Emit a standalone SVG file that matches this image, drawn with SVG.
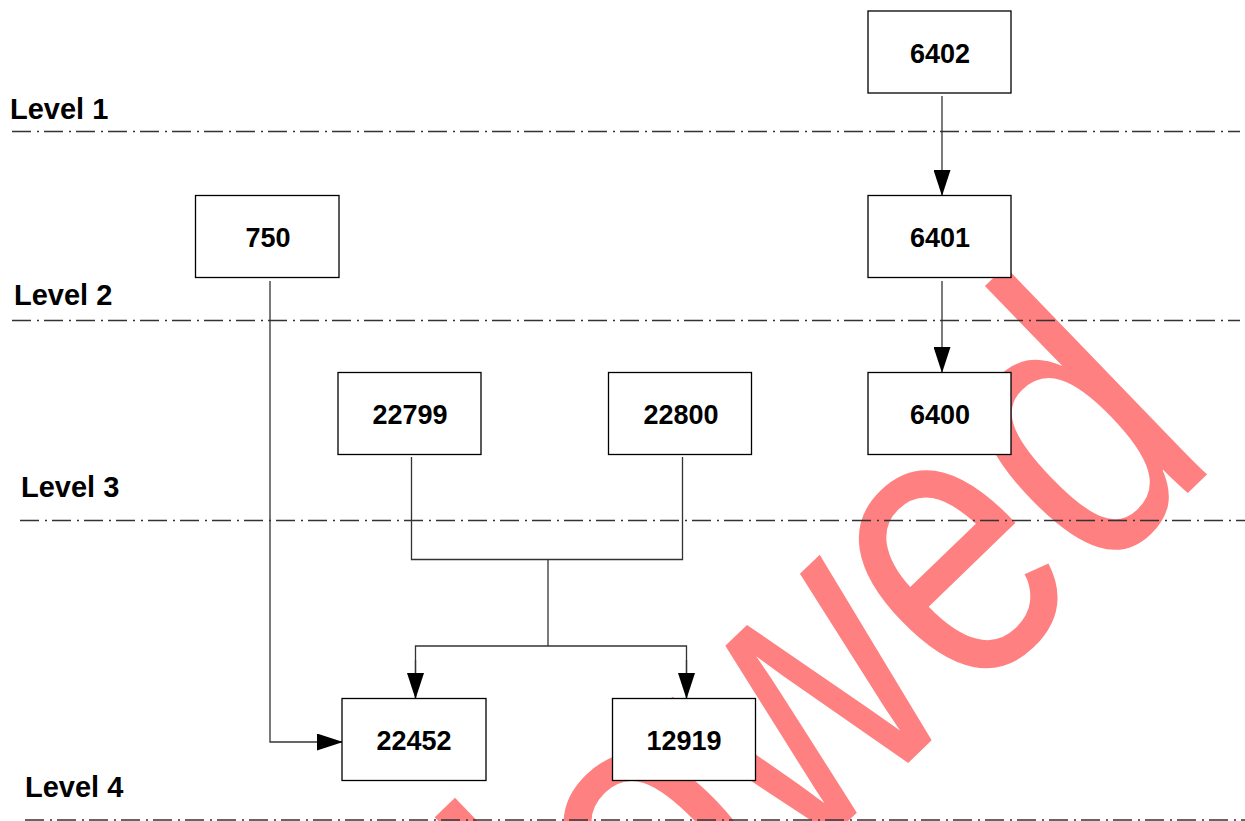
<svg xmlns="http://www.w3.org/2000/svg" width="1245" height="821" viewBox="0 0 1245 821">
<style>
.wm{font-family:"Liberation Sans",Arial,sans-serif;font-size:400px;fill:#FF8080}
.box{fill:#fff;stroke:#000;stroke-width:1.3}
.lbl{font-family:"Liberation Sans",Arial,sans-serif;font-size:27px;font-weight:bold;fill:#000;text-anchor:middle}
.lvl{font-family:"Liberation Sans",Arial,sans-serif;font-size:29px;font-weight:bold;fill:#000}
.sep{stroke:#333;stroke-width:1.5;stroke-dasharray:19 6 2 5;fill:none}
.con{stroke:#333;stroke-width:1.3;fill:none}
</style>
<defs>
<marker id="arr" markerUnits="userSpaceOnUse" markerWidth="27" markerHeight="17" refX="26" refY="8.5" orient="auto">
<path d="M0,0 L26,8.5 L0,17 Z" fill="#000"/>
</marker>
</defs>
<rect width="1245" height="821" fill="#fff"/>
<text class="wm" x="0" y="0" text-anchor="end" transform="translate(1222 460) rotate(-44) scale(0.8 1)">Allowed</text>
<g id="levels">
<line class="sep" x1="12" y1="131.5" x2="1240" y2="131.5"/>
<line class="sep" x1="12" y1="320.5" x2="1240" y2="320.5"/>
<line class="sep" x1="20" y1="520.5" x2="1245" y2="520.5"/>
<line class="sep" x1="25" y1="820" x2="1245" y2="820"/>
<text class="lvl" x="10" y="119">Level 1</text>
<text class="lvl" x="14" y="305">Level 2</text>
<text class="lvl" x="21" y="497">Level 3</text>
<text class="lvl" x="25" y="797">Level 4</text>
</g>
<g id="connectors">
<line class="con" x1="942" y1="96" x2="942" y2="196" marker-end="url(#arr)"/>
<line class="con" x1="942" y1="281" x2="942" y2="373" marker-end="url(#arr)"/>
<polyline class="con" points="270,281 270,742 343,742" marker-end="url(#arr)"/>
<polyline class="con" points="411.5,457 411.5,559.5 682.5,559.5 682.5,457"/>
<line class="con" x1="548" y1="559.5" x2="548" y2="646"/>
<polyline class="con" points="415.5,699 415.5,646 686.5,646 686.5,699"/>
<line class="con" x1="415.5" y1="660" x2="415.5" y2="699" marker-end="url(#arr)"/>
<line class="con" x1="686.5" y1="660" x2="686.5" y2="699" marker-end="url(#arr)"/>
</g>
<g id="n6402"><rect class="box" x="868" y="11" width="143" height="82"/><text class="lbl" x="940" y="63">6402</text></g>
<g id="n6401"><rect class="box" x="868" y="195.5" width="143" height="82"/><text class="lbl" x="940" y="247">6401</text></g>
<g id="n750"><rect class="box" x="195.5" y="195.5" width="143.5" height="82"/><text class="lbl" x="268" y="247">750</text></g>
<g id="n22799"><rect class="box" x="338" y="372.5" width="143" height="82"/><text class="lbl" x="410" y="424">22799</text></g>
<g id="n22800"><rect class="box" x="608.5" y="372.5" width="143" height="82"/><text class="lbl" x="681" y="424">22800</text></g>
<g id="n6400"><rect class="box" x="868" y="372.5" width="143" height="82"/><text class="lbl" x="940" y="424">6400</text></g>
<g id="n22452"><rect class="box" x="342" y="698.5" width="144" height="82"/><text class="lbl" x="414" y="750">22452</text></g>
<g id="n12919"><rect class="box" x="612.5" y="698.5" width="143" height="82"/><text class="lbl" x="684" y="750">12919</text></g>
</svg>
